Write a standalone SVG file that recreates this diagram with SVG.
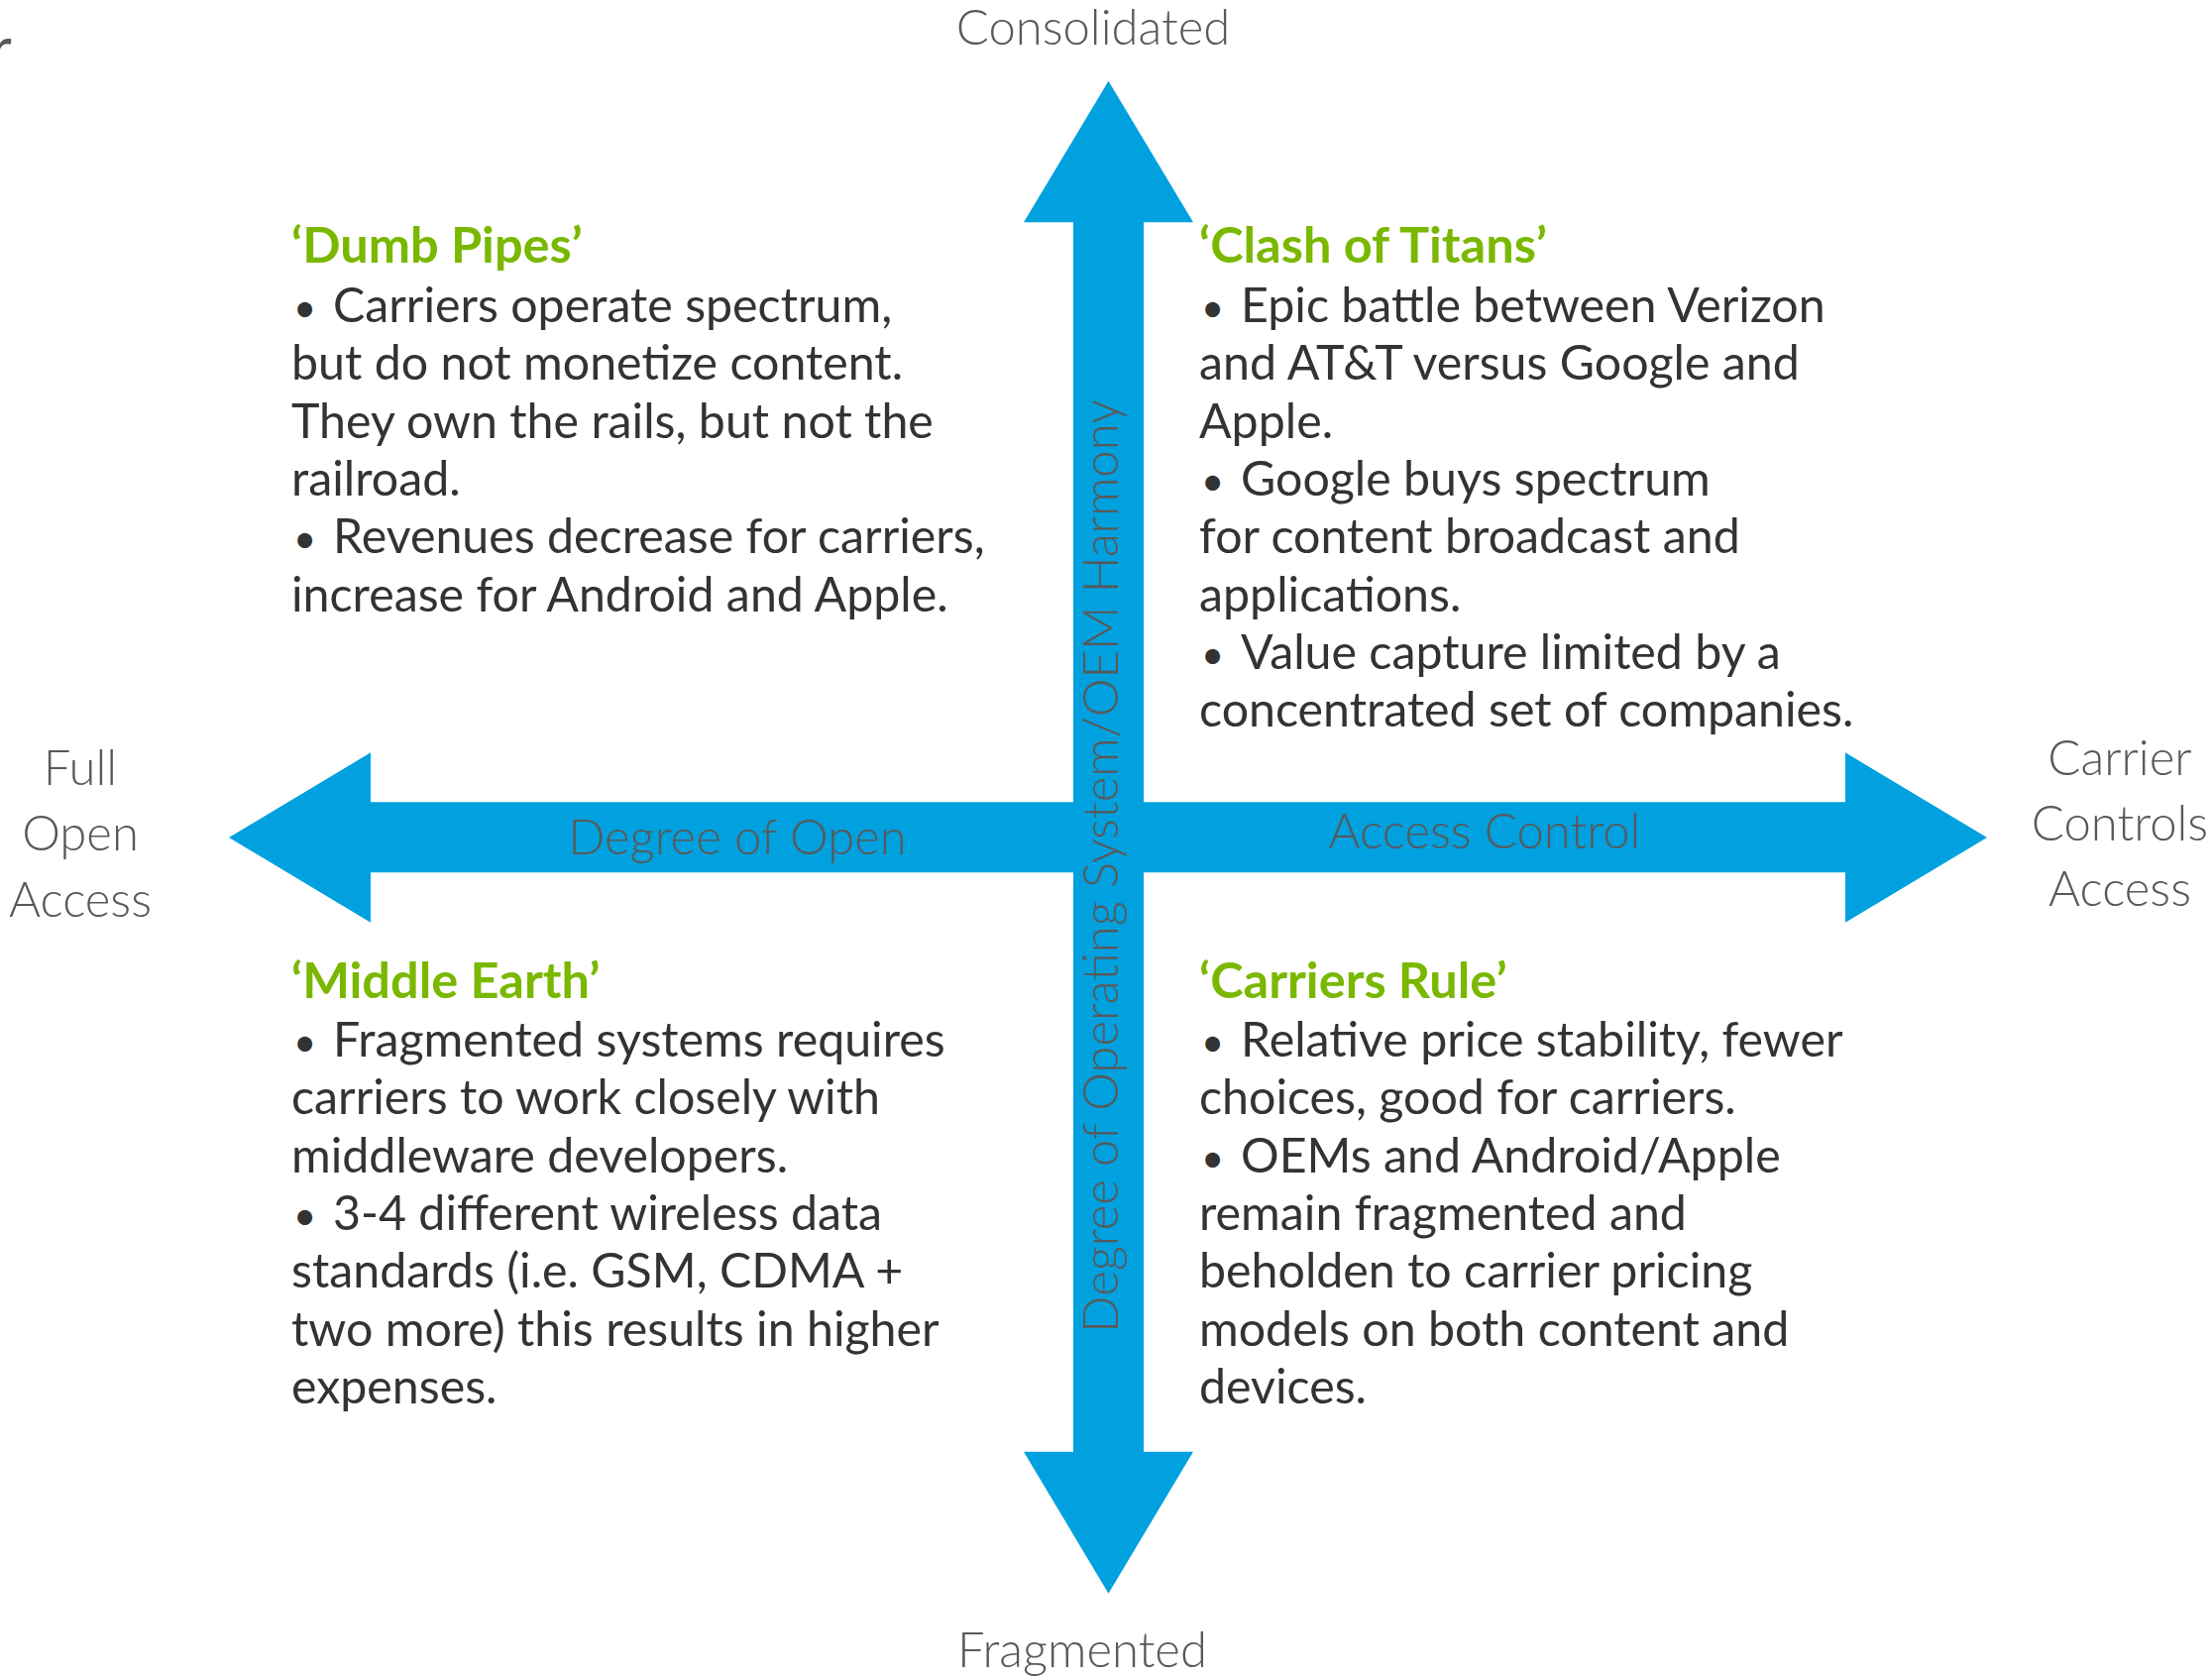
<svg xmlns="http://www.w3.org/2000/svg" width="2232" height="1693" viewBox="0 0 2232 1693">
<style>
.axis{font-family:Lato,"Open Sans","Liberation Sans",sans-serif;font-size:49px;font-weight:300;fill:#595959}
.frag{font-family:Lato,"Open Sans","Liberation Sans",sans-serif;font-size:60px;font-weight:400;fill:#595959}
.title{font-family:Lato,"Open Sans","Liberation Sans",sans-serif;font-size:50.5px;font-weight:700;fill:#7AB800}
.body{font-family:Lato,"Open Sans","Liberation Sans",sans-serif;font-size:48.3px;font-weight:400;fill:#333333}
.b{font-size:40px}
.arrow{fill:#00A1DE}
</style>
<rect width="2232" height="1693" fill="#ffffff"/>
<text class="frag" x="-10" y="70">r</text>
<g id="connectors">
<polygon id="axis-h" class="arrow" points="231,845 374,759.3 374,809.3 1862,809.3 1862,759.3 2005,845 1862,930.7 1862,880.3 374,880.3 374,930.7"/>
<polygon id="axis-v" class="arrow" points="1118.5,81.7 1204,224.3 1154,224.3 1154,1464.7 1204,1464.7 1118.5,1607.7 1033,1464.7 1083,1464.7 1083,224.3 1033,224.3"/>
<text class="axis" x="744" y="861.7" text-anchor="middle">Degree of Open</text>
<text class="axis" x="1498" y="856" text-anchor="middle">Access Control</text>
<text class="axis" transform="translate(1128.3,874) rotate(-90)" text-anchor="middle">Degree of Operating System/OEM Harmony</text>
</g>
<g id="label-top"><text class="axis" x="1103" y="45" text-anchor="middle">Consolidated</text></g>
<g id="label-bottom"><text class="axis" x="1092" y="1681.7" text-anchor="middle">Fragmented</text></g>
<g id="label-left">
<text class="axis" x="81" y="791.7" text-anchor="middle">Full</text>
<text class="axis" x="81" y="858.3" text-anchor="middle">Open</text>
<text class="axis" x="81" y="925" text-anchor="middle">Access</text>
</g>
<g id="label-right">
<text class="axis" x="2139" y="781.7" text-anchor="middle">Carrier</text>
<text class="axis" x="2139" y="848.3" text-anchor="middle">Controls</text>
<text class="axis" x="2139" y="914.3" text-anchor="middle">Access</text>
</g>
<g id="q-dumb-pipes">
<text class="title" x="294" y="265">‘Dumb Pipes’</text>
<text class="body">
<tspan x="296" y="325" class="b">•</tspan><tspan x="336" y="325">Carriers operate spectrum,</tspan>
<tspan x="294" y="383.3">but do not monetize content.</tspan>
<tspan x="294" y="441.7">They own the rails, but not the</tspan>
<tspan x="294" y="500">railroad.</tspan>
<tspan x="296" y="558.3" class="b">•</tspan><tspan x="336" y="558.3">Revenues decrease for carriers,</tspan>
<tspan x="294" y="616.7">increase for Android and Apple.</tspan>
</text>
</g>
<g id="q-clash-of-titans">
<text class="title" x="1210" y="265">‘Clash of Titans’</text>
<text class="body">
<tspan x="1212" y="325" class="b">•</tspan><tspan x="1252" y="325">Epic battle between Verizon</tspan>
<tspan x="1210" y="383.3">and AT&amp;T versus Google and</tspan>
<tspan x="1210" y="441.7">Apple.</tspan>
<tspan x="1212" y="500" class="b">•</tspan><tspan x="1252" y="500">Google buys spectrum</tspan>
<tspan x="1210" y="558.3">for content broadcast and</tspan>
<tspan x="1210" y="616.7">applications.</tspan>
<tspan x="1212" y="675" class="b">•</tspan><tspan x="1252" y="675">Value capture limited by a</tspan>
<tspan x="1210" y="733.3">concentrated set of companies.</tspan>
</text>
</g>
<g id="q-middle-earth">
<text class="title" x="294" y="1006.7">‘Middle Earth’</text>
<text class="body">
<tspan x="296" y="1066" class="b">•</tspan><tspan x="336" y="1066">Fragmented systems requires</tspan>
<tspan x="294" y="1124.3">carriers to work closely with</tspan>
<tspan x="294" y="1182.7">middleware developers.</tspan>
<tspan x="296" y="1241" class="b">•</tspan><tspan x="336" y="1241">3-4 different wireless data</tspan>
<tspan x="294" y="1299.3">standards (i.e. GSM, CDMA +</tspan>
<tspan x="294" y="1357.7">two more) this results in higher</tspan>
<tspan x="294" y="1416">expenses.</tspan>
</text>
</g>
<g id="q-carriers-rule">
<text class="title" x="1210" y="1006.7">‘Carriers Rule’</text>
<text class="body">
<tspan x="1212" y="1066" class="b">•</tspan><tspan x="1252" y="1066">Relative price stability, fewer</tspan>
<tspan x="1210" y="1124.3">choices, good for carriers.</tspan>
<tspan x="1212" y="1182.7" class="b">•</tspan><tspan x="1252" y="1182.7">OEMs and Android/Apple</tspan>
<tspan x="1210" y="1241">remain fragmented and</tspan>
<tspan x="1210" y="1299.3">beholden to carrier pricing</tspan>
<tspan x="1210" y="1357.7">models on both content and</tspan>
<tspan x="1210" y="1416">devices.</tspan>
</text>
</g>
</svg>
